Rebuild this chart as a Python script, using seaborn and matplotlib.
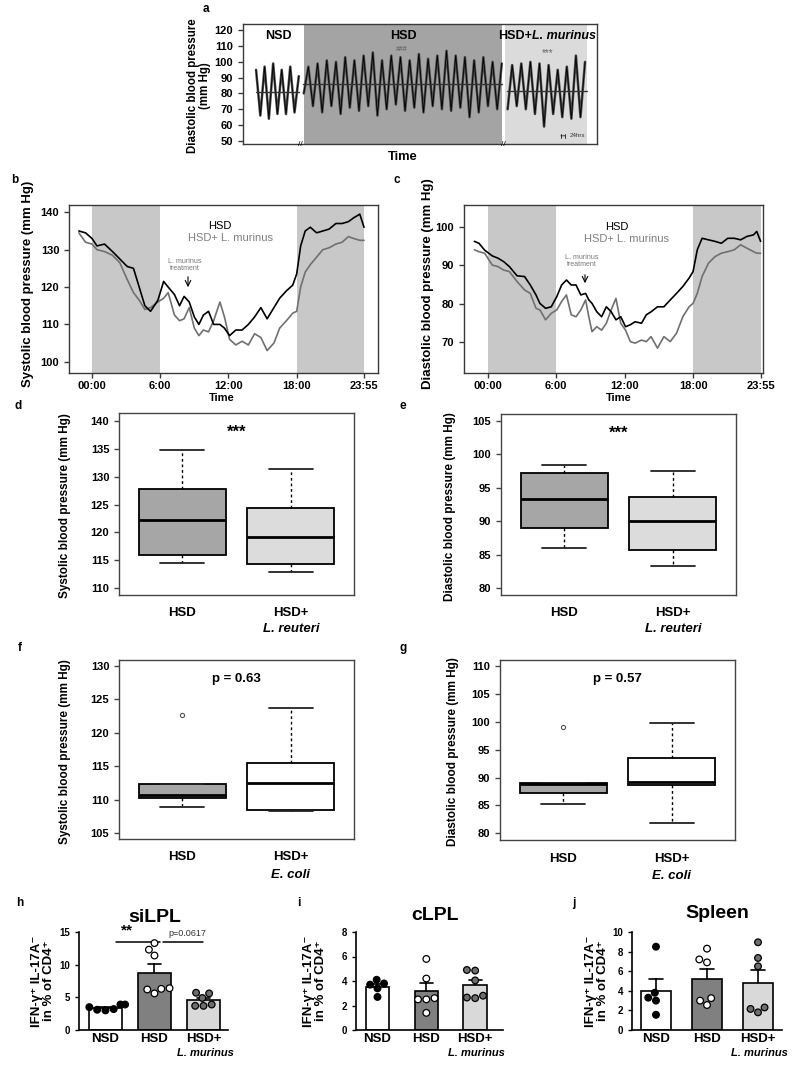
import numpy as np
import pandas as pd
import matplotlib
matplotlib.use("Agg")
import matplotlib.pyplot as plt
import seaborn as sns

# ---- a: diastolic telemetry trace, night peaks / day troughs
a_nsd_peaks = [95, 97, 99, 95, 97, 91]
a_nsd_troughs = [66, 64, 67, 67, 68]
a_hsd_troughs = [80, 72, 68, 72, 67, 71, 69, 72, 66, 70, 73, 69, 71, 68, 72, 70, 69, 71, 65, 68, 72, 70]
a_hsd_peaks = [97, 99, 101, 100, 103, 101, 104, 106, 101, 104, 103, 101, 105, 102, 104, 107, 104, 103, 101, 103, 100, 99]
a_lm_troughs = [70, 72, 70, 67, 59, 67, 65, 64, 65]
a_lm_peaks = [98, 99, 100, 99, 98, 95, 97, 104, 100]
a_means = [81, 86, 81.5]

# ---- b / c: 24h profiles (hours)
b_time = [-1.15, -0.57, 0, 0.44, 1.1, 1.8, 2.45, 3.1, 3.65, 4.15, 4.65, 5.15, 5.8, 6.3, 6.7,
          7.25, 7.7, 8.1, 8.55, 9.0, 9.4, 9.8, 10.25, 10.7, 11.25, 11.65, 12.1, 12.65, 13.2,
          13.75, 14.3, 14.85, 15.4, 16.0, 16.5, 17.1, 17.65, 18.0, 18.35, 18.75, 19.2, 19.75,
          20.3, 20.85, 21.45, 22.0, 22.55, 23.0, 23.55, 23.92]
b_hsd = [135, 134.5, 133, 131, 131.5, 129.5, 127.5, 125.5, 125, 120, 115, 113.5, 116.5, 121.5,
         120, 118, 115, 117.5, 116, 112, 110, 112.5, 113.5, 110, 110, 109, 107, 108.5, 108.5,
         110, 112, 114.5, 111.5, 114.5, 117, 119, 120.5, 123.5, 131, 135, 136, 134.5, 135,
         135.5, 137, 137, 137.5, 138.5, 139.5, 136]
b_lm = [134.5, 132, 131.5, 130, 129.5, 128.5, 126.5, 122, 118.5, 116.5, 114, 114.5, 116, 117,
        118.5, 112.5, 111, 111.5, 114.5, 109, 107, 108.5, 108, 111, 116, 112, 106, 104.5, 105.5,
        104.5, 107.5, 106.5, 103, 105, 109, 111, 113, 113.5, 120, 124, 126, 128, 130, 130.5,
        131.5, 132, 133.5, 133, 132.5, 132.5]
c_time = [-1.17, -0.77, -0.27, 0.4, 0.9, 1.4, 1.9, 2.57, 3.23, 3.73, 4.23, 4.57, 5.07, 5.57,
          6.06, 6.48, 6.9, 7.32, 7.74, 8.16, 8.58, 8.86, 9.14, 9.56, 9.98, 10.4, 10.82, 11.24,
          11.66, 12.08, 12.5, 12.92, 13.48, 13.9, 14.32, 14.88, 15.44, 16.0, 16.55, 17.1,
          17.65, 18.0, 18.37, 18.79, 19.35, 19.92, 20.48, 21.04, 21.61, 22.17, 22.73, 23.3,
          23.58, 23.92]
c_hsd = [96.3, 95.8, 94, 92.5, 91.9, 91, 89.7, 87.3, 87.1, 84.9, 82.3, 80.1, 78.8, 79.2, 81.9,
         84.9, 86.2, 84.9, 84.9, 82.3, 82.7, 81, 80.1, 77.9, 76.6, 79.2, 77.9, 75.8, 76.6, 74,
         74.5, 75.3, 74.9, 77.1, 77.9, 79.2, 79.2, 81, 82.7, 84.5, 86.7, 88.4, 94.1, 97.1, 96.7,
         96.3, 95.8, 97.1, 97.1, 96.7, 97.6, 98, 98.9, 96.3]
c_lm = [94.1, 93.6, 93.2, 90.1, 89.7, 88.8, 88.4, 85.8, 83.6, 82.7, 78.8, 78.4, 75.8, 77.5,
        78.4, 80.6, 82.3, 77.1, 76.6, 78.4, 81, 76.6, 72.7, 74, 73.1, 74.9, 78.4, 81.4, 74.9,
        73.1, 70.1, 69.7, 70.5, 70.1, 71.4, 68.4, 71.4, 70.1, 72.3, 76.6, 79.2, 80.1, 82.7,
        87.1, 90.6, 92.3, 93.2, 93.6, 94.1, 95.4, 94.5, 93.6, 93.2, 93.2]
time_ticks = [0, 6, 12, 18, 23.92]
time_labels = ['00:00', '6:00', '12:00', '18:00', '23:55']

# ---- d-g: box summaries (low whisker, q1, median, q3, high whisker)
d_hsd = [114.6, 116.0, 122.2, 127.7, 134.7]
d_reuteri = [112.9, 114.4, 119.1, 124.3, 131.4]
e_hsd = [86.0, 89.0, 93.3, 97.3, 98.5]
e_reuteri = [83.4, 85.7, 90.1, 93.6, 97.6]
f_hsd = [108.9, 110.3, 110.7, 112.4, 112.4]
f_coli = [108.4, 108.5, 112.5, 115.5, 123.8]
g_hsd = [85.2, 87.3, 88.8, 89.0, 89.0]
g_coli = [81.9, 88.7, 89.2, 93.5, 99.7]
f_outlier = [122.7]
g_outlier = [99.1]

# ---- h-j: IFN-g+ IL-17A- cells, % of CD4+
groups = ['NSD', 'HSD', 'HSD+']
h_nsd = [3.9, 3.5, 3.0, 3.2, 3.1, 3.9]
h_hsd = [13.3, 12.3, 11.4, 6.3, 5.6, 6.2, 6.4]
h_lm = [5.7, 5.6, 4.9, 3.9, 3.7, 3.7]
i_nsd = [3.8, 2.7, 3.7, 3.4, 4.1]
i_hsd = [5.8, 4.2, 2.6, 2.5, 2.5, 1.4]
i_lm = [4.85, 4.9, 4.05, 2.8, 2.6, 2.65]
j_nsd = [8.5, 3.3, 3.8, 3.0, 1.55]
j_hsd = [8.3, 7.2, 6.9, 3.25, 2.55, 3.0]
j_lm = [8.95, 7.35, 6.5, 2.3, 1.8, 2.15]

sns.set_style("ticks")
plt.rcParams['font.family'] = ['Liberation Sans', 'DejaVu Sans']
plt.rcParams['font.weight'] = 'bold'
plt.rcParams['axes.labelweight'] = 'bold'
for k in ['text.color', 'axes.labelcolor', 'xtick.color', 'ytick.color']:
    plt.rcParams[k] = 'black'

W, H = 800, 1069
fig = plt.figure(figsize=(W / 100, H / 100), dpi=100)


def add_ax(l, t, r, b):
    return fig.add_axes([l / W, 1 - b / H, (r - l) / W, (b - t) / H])


def ftext(x, y, s, **kw):
    kw.setdefault('ha', 'center')
    kw.setdefault('va', 'center')
    fig.text(x / W, 1 - y / H, s, **kw)


def frame(ax, color='#3a3a3a', lw=1.0):
    for sp in ax.spines.values():
        sp.set_color(color)
        sp.set_linewidth(lw)
    ax.tick_params(color=color, width=1, length=3.5, labelsize=8)


def interleave(first, second):
    out = []
    for k in range(max(len(first), len(second))):
        if k < len(first):
            out.append(first[k])
        if k < len(second):
            out.append(second[k])
    return out


# ================= a
ax = add_ax(243, 24, 597, 144)
ax.axvspan(6.78, 28.8, color='#a4a4a4', lw=0)
ax.axvspan(29.1, 38.26, color='#dbdbdb', lw=0)
segs = [(interleave(a_nsd_peaks, a_nsd_troughs), 1.45, 6.2, a_means[0], 1.41, 6.26),
        (interleave(a_hsd_troughs, a_hsd_peaks), 6.75, 28.75, a_means[1], 6.67, 28.8),
        (interleave(a_lm_troughs, a_lm_peaks), 29.4, 38.0, a_means[2], 29.3, 38.2)]
for vals, x0, x1, m, m0, m1 in segs:
    xs = np.linspace(x0, x1, len(vals))
    sns.lineplot(x=xs, y=vals, color='#4a4a4a', lw=1.8, ax=ax)
    sns.lineplot(x=xs, y=vals, color='black', lw=0.6, ax=ax)
    ax.plot([m0, m1], [m, m], color='#333333', lw=1)
ax.set_xlim(0, 39.33)
ax.set_ylim(48, 124)
ax.set_yticks(range(50, 121, 10))
ax.set_xticks([])
frame(ax)
ax.text(3.9, 116.2, 'NSD', ha='center', va='center', fontsize=9)
ax.text(17.8, 116.2, 'HSD', ha='center', va='center', fontsize=9)
ax.text(32.08, 116.2, 'HSD+', ha='right', va='center', fontsize=9)
ax.text(32.08, 116.2, 'L. murinus', ha='left', va='center', fontsize=9, style='italic')
ax.text(17.6, 107.8, '###', ha='center', va='center', fontsize=5, color='#555555', weight='normal')
ax.text(33.8, 105.7, '***', ha='center', va='center', fontsize=7, color='#666666', weight='normal')
ax.annotate('', xy=(36.1, 53.2), xytext=(35.0, 53.2),
            arrowprops=dict(arrowstyle='|-|,widthA=0.15,widthB=0.15', lw=0.7, color='#333333'))
ax.text(36.3, 53.2, '24hrs', fontsize=4.5, va='center', weight='normal', color='#333333')
for xb in [6.33, 28.9]:
    ax.text(xb, 0, '//', transform=ax.get_xaxis_transform(), ha='center', va='center',
            fontsize=6, weight='normal')
ftext(199, 86, 'Diastolic blood pressure\n(mm Hg)', rotation=90, fontsize=8.3, linespacing=1.1)
ftext(403, 157, 'Time', fontsize=9.3)
ftext(206, 9, 'a', fontsize=8.5)


# ================= b, c
def time_panel(rect, t, hsd, lm, xlim, ylim, yticks, ylabel, ylab_x, time_x, txt):
    l, tp, r, b = rect
    ax = add_ax(*rect)

    def fr(px, py):
        return (px - l) / (r - l), (b - py) / (b - tp)

    ax.axvspan(0, 6, color='#c8c8c8', lw=0)
    ax.axvspan(18, 23.92, color='#c8c8c8', lw=0)
    sns.lineplot(x=t, y=lm, color='#707070', lw=1.2, ax=ax)
    sns.lineplot(x=t, y=hsd, color='black', lw=1.2, ax=ax)
    ax.set_xlim(*xlim)
    ax.set_ylim(*ylim)
    ax.set_yticks(yticks)
    ax.set_xticks(time_ticks)
    ax.set_xticklabels(time_labels)
    frame(ax)
    ax.tick_params(axis='x', pad=2)
    ax.text(*fr(*txt[0]), 'HSD', transform=ax.transAxes, ha='center', va='center',
            fontsize=8, weight='normal')
    ax.text(*fr(*txt[1]), 'HSD+ L. murinus', transform=ax.transAxes, ha='center', va='center',
            fontsize=8, weight='normal', color='#808080')
    ax.text(*fr(*txt[2]), 'L. murinus\ntreatment', transform=ax.transAxes, ha='center',
            va='center', fontsize=5, weight='normal', color='#777777', linespacing=0.95)
    ax.annotate('', xy=fr(*txt[4]), xytext=fr(*txt[3]), xycoords='axes fraction',
                textcoords='axes fraction', arrowprops=dict(arrowstyle='->', lw=0.8, color='black'))
    ftext(ylab_x, 284, ylabel, rotation=90, fontsize=9.5)
    ftext(time_x, 398, 'Time', fontsize=8)
    return ax


time_panel((69, 205, 378, 373), b_time, b_hsd, b_lm, (-2.02, 25.15), (97, 141.95),
           [100, 110, 120, 130, 140], 'Systolic blood pressure (mm Hg)', 28, 222,
           [(220, 226), (230, 238), (185, 265), (188, 274), (188, 290)])
time_panel((464, 205, 763, 373), c_time, c_hsd, c_lm, (-2.08, 24.13), (61.9, 105.8),
           [70, 80, 90, 100], 'Diastolic blood pressure (mm Hg)', 428, 619,
           [(617, 227), (627, 239), (582, 261), (585, 272), (585, 286)])
ftext(15, 180, 'b', fontsize=8.5)
ftext(397, 180, 'c', fontsize=8.5)


# ================= d-g
def box_panel(rect, s1, s2, colors, fliers, ylim, yticks, ylabel, ylab_x, top_text, top_size,
              grp2, yfrac):
    l, tp, r, b = rect
    ax = add_ax(*rect)
    stats = []
    for s, fl in zip([s1, s2], fliers):
        stats.append(dict(whislo=s[0], q1=s[1], med=s[2], q3=s[3], whishi=s[4], fliers=fl))
    res = ax.bxp(stats, positions=[0, 1], widths=0.8, patch_artist=True, showfliers=True,
                 boxprops=dict(linewidth=1.3, edgecolor='black'),
                 medianprops=dict(color='black', linewidth=2),
                 whiskerprops=dict(linestyle=(0, (2, 2)), linewidth=1, color='black'),
                 capprops=dict(linewidth=1.3, color='#222222'),
                 flierprops=dict(marker='o', markersize=3, markerfacecolor='white',
                                 markeredgecolor='#555555', markeredgewidth=0.8))
    for patch, c in zip(res['boxes'], colors):
        patch.set_facecolor(c)
    ax.set_xlim(-0.58, 1.58)
    ax.set_ylim(*ylim)
    ax.set_yticks(yticks)
    frame(ax, color='#444444')
    ax.set_xticks([0, 1])
    ax.set_xticklabels(['HSD', 'HSD+'], fontsize=9.5)
    ax.tick_params(axis='x', length=0, pad=9)
    ax.text(1, yfrac, grp2, transform=ax.get_xaxis_transform(), ha='center', va='center',
            fontsize=9.5, style='italic')
    ax.text(0.5, 0.895, top_text, transform=ax.transAxes, ha='center', va='center',
            fontsize=top_size)
    ftext(ylab_x, (tp + b) / 2 + 2, ylabel, rotation=90, fontsize=8.5)
    return ax


box_panel((119, 413, 354, 595), d_hsd, d_reuteri, ['#a6a6a6', '#dcdcdc'], [[], []],
          (108.8, 141.4), range(110, 141, 5), 'Systolic blood pressure (mm Hg)', 65,
          '***', 12, 'L. reuteri', -0.187)
box_panel((501, 414, 736, 595), e_hsd, e_reuteri, ['#a6a6a6', '#dcdcdc'], [[], []],
          (79.0, 106.05), range(80, 106, 5), 'Diastolic blood pressure (mm Hg)', 450,
          '***', 12, 'L. reuteri', -0.187)
box_panel((119, 660, 354, 839), f_hsd, f_coli, ['#a6a6a6', 'white'], [f_outlier, []],
          (104.15, 130.9), range(105, 131, 5), 'Systolic blood pressure (mm Hg)', 65,
          'p = 0.63', 9.5, 'E. coli', -0.2)
box_panel((500, 660, 735, 840), g_hsd, g_coli, ['#a6a6a6', 'white'], [g_outlier, []],
          (78.8, 111.08), range(80, 111, 5), 'Diastolic blood pressure (mm Hg)', 453,
          'p = 0.57', 9.5, 'E. coli', -0.2)
ftext(18, 406, 'd', fontsize=8.5)
ftext(403, 406, 'e', fontsize=8.5)
ftext(20, 648, 'f', fontsize=8.5)
ftext(403, 648, 'g', fontsize=8.5)

# ================= h-j
bar_colors = {'NSD': 'white', 'HSD': '#808080', 'HSD+': '#d9d9d9'}
pt_colors = {'NSD': 'black', 'HSD': 'white', 'HSD+': '#6e6e6e'}


def bar_panel(rect, vals, ylim, yticks, width, xlim, title, title_xy, ylab_x):
    ax = add_ax(*rect)
    df = pd.DataFrame({'group': np.repeat(groups, [len(v) for v in vals]),
                       'value': np.concatenate(vals)})
    sns.barplot(data=df, x='group', y='value', hue='group', order=groups, palette=bar_colors,
                errorbar='se', capsize=0.27, err_kws={'color': 'black', 'linewidth': 1.2},
                edgecolor='black', linewidth=1.2, width=width, legend=False, ax=ax)
    for ln in ax.lines:
        ln.set_zorder(0.8)
    sns.swarmplot(data=df, x='group', y='value', hue='group', order=groups, palette=pt_colors,
                  edgecolor='black', linewidth=0.9, size=4.8, legend=False, ax=ax, zorder=3)
    ax.set_xlim(*xlim)
    ax.set_ylim(*ylim)
    ax.set_yticks(yticks)
    ax.set_xlabel('')
    ax.set_ylabel('')
    sns.despine(ax=ax)
    for sp in ['left', 'bottom']:
        ax.spines[sp].set_linewidth(1.2)
        ax.spines[sp].set_color('black')
    ax.tick_params(axis='y', labelsize=7, length=3, width=1)
    ax.tick_params(axis='x', labelsize=9.5, length=0, pad=2)
    ax.text(2.03, -0.231, 'L. murinus', transform=ax.get_xaxis_transform(), ha='center',
            va='center', fontsize=8, style='italic')
    ftext(*title_xy, title, fontsize=14)
    ftext(ylab_x, 981, 'IFN-\u03b3\u207a IL-17A\u207b\nin % of CD4\u207a', rotation=90,
          fontsize=9.5, linespacing=1.0)
    return ax


ax = bar_panel((79, 932, 228, 1030), [h_nsd, h_hsd, h_lm], (0, 15), [0, 5, 10, 15], 0.67,
               (-0.54, 2.5), 'siLPL', (155, 917), 43)
ax.plot([0.21, 1.12], [13.5, 13.5], color='black', lw=1.1, clip_on=False)
ax.plot([1.18, 2.0], [13.5, 13.5], color='black', lw=1.1, clip_on=False)
ax.text(0.43, 15.2, '**', ha='center', va='center', fontsize=11, clip_on=False)
ax.text(1.68, 14.74, 'p=0.0617', ha='center', va='center', fontsize=6.5, weight='normal',
        color='#333333', clip_on=False)
bar_panel((356, 932, 503, 1030), [i_nsd, i_hsd, i_lm], (0, 8), [0, 2, 4, 6, 8], 0.48,
          (-0.44, 2.57), 'cLPL', (435, 915), 315)
bar_panel((632, 932, 782, 1030), [j_nsd, j_hsd, j_lm], (0, 10), [0, 2, 4, 6, 8, 10], 0.6,
          (-0.47, 2.47), 'Spleen', (717, 913), 597)
ftext(20, 903, 'h', fontsize=8.5)
ftext(299, 903, 'i', fontsize=8.5)
ftext(574, 903, 'j', fontsize=8.5)

fig.savefig('out.png', dpi=100, facecolor='white')
